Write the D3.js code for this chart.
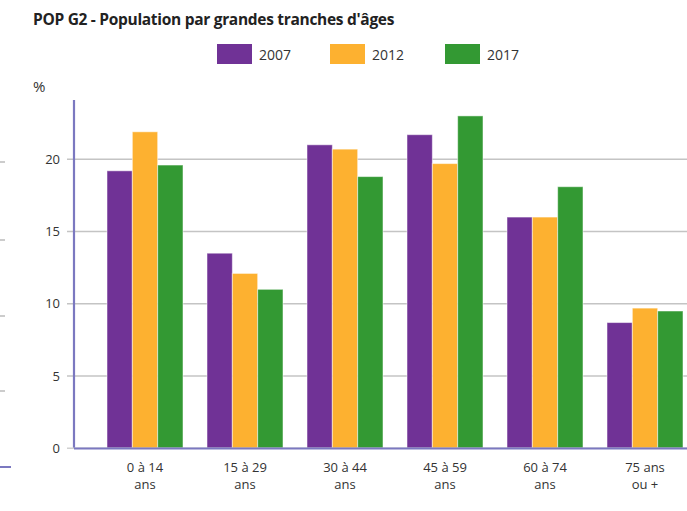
<!DOCTYPE html>
<html><head><meta charset="utf-8">
<script src="https://cdn.jsdelivr.net/npm/d3@7"></script>
<style>body{margin:0;background:#fff;}svg{display:block;font-family:"Open Sans",sans-serif;}</style>
</head><body>
<script>
const categories = [["0 à 14","ans"],["15 à 29","ans"],["30 à 44","ans"],["45 à 59","ans"],["60 à 74","ans"],["75 ans","ou +"]];
const series = ["2007","2012","2017"];
const values2007 = [19.2, 13.5, 21.0, 21.7, 16.0, 8.7];
const values2012 = [21.9, 12.1, 20.7, 19.7, 16.0, 9.7];
const values2017 = [19.6, 11.0, 18.8, 23.0, 18.1, 9.5];
const yTicks = [0, 5, 10, 15, 20];
const colors = ["#703296", "#fdb130", "#339933"];
const title = "POP G2 - Population par grandes tranches d'âges";

const W = 687, H = 511;
const svg = d3.select("body").append("svg").attr("width", W).attr("height", H);

const catKeys = categories.map(c => c.join(" "));
const x = d3.scaleBand().domain(catKeys).range([95, 695]).paddingInner(0.24).paddingOuter(0.12);
const xs = d3.scaleBand().domain(series).range([0, x.bandwidth()]);
const y = d3.scaleLinear().domain([0, 24.1]).range([448.3, 100]);
const allVals = [values2007, values2012, values2017];

// left edge artifacts
[162, 240, 316, 391].forEach(v => svg.append("line").attr("x1", 0).attr("x2", 5).attr("y1", v).attr("y2", v).attr("stroke", "#bbb").attr("stroke-width", 1.5));
svg.append("line").attr("x1", 0).attr("x2", 11).attr("y1", 467).attr("y2", 467).attr("stroke", "#7b78c0").attr("stroke-width", 2);

// title
svg.append("text").attr("x", 33).attr("y", 25).attr("font-size", 15.5).attr("font-weight", 700).attr("fill", "#222").attr("letter-spacing", -0.3).text(title);

// legend
const legX = [217, 330, 445];
series.forEach((s, i) => {
  svg.append("rect").attr("x", legX[i]).attr("y", 44).attr("width", 35).attr("height", 20).attr("fill", colors[i]);
  svg.append("text").attr("x", legX[i] + 42).attr("y", 60).attr("font-size", 14).attr("fill", "#333").text(s);
});

svg.append("text").attr("x", 33).attr("y", 92).attr("font-size", 15).attr("fill", "#333").text("%");

// grid
svg.append("g").selectAll("line").data(yTicks.filter(t => t > 0)).join("line")
  .attr("x1", 67).attr("x2", W).attr("y1", d => y(d)).attr("y2", d => y(d))
  .attr("stroke", "#c4c4c4").attr("stroke-width", 1.5);

// y axis labels
const yAxis = d3.axisLeft(y).tickValues(yTicks).tickSize(0).tickPadding(0);
const ga = svg.append("g").attr("transform", "translate(60,0)").call(yAxis);
ga.select(".domain").remove();
ga.selectAll("text").attr("font-size", 13).attr("fill", "#333").attr("font-family", "Open Sans, sans-serif");

// bars
series.forEach((s, si) => {
  svg.append("g").selectAll("rect").data(allVals[si]).join("rect")
    .attr("x", (d, i) => x(catKeys[i]) + xs(s))
    .attr("y", d => y(d))
    .attr("width", xs.bandwidth())
    .attr("height", d => y(0) - y(d))
    .attr("fill", colors[si])
    .attr("stroke", "rgba(255,255,255,0.5)").attr("stroke-width", 1);
});

// axes lines
svg.append("line").attr("x1", 74).attr("x2", 74).attr("y1", 100).attr("y2", 449).attr("stroke", "#7b78c0").attr("stroke-width", 2.2);
svg.append("line").attr("x1", 67).attr("x2", W).attr("y1", 448.3).attr("y2", 448.3).attr("stroke", "#d0d0d0").attr("stroke-width", 1.5);
svg.append("line").attr("x1", 74).attr("x2", W).attr("y1", 448.5).attr("y2", 448.5).attr("stroke", "#7b78c0").attr("stroke-width", 2);

// x labels
const xg = svg.append("g").selectAll("text").data(categories).join("text")
  .attr("x", (d, i) => x(catKeys[i]) + x.bandwidth() / 2)
  .attr("y", 472).attr("text-anchor", "middle").attr("font-size", 13).attr("fill", "#333");
xg.append("tspan").attr("x", (d, i) => x(catKeys[i]) + x.bandwidth() / 2).text(d => d[0]);
xg.append("tspan").attr("x", (d, i) => x(catKeys[i]) + x.bandwidth() / 2).attr("dy", 17).text(d => d[1]);
</script>
</body></html>
